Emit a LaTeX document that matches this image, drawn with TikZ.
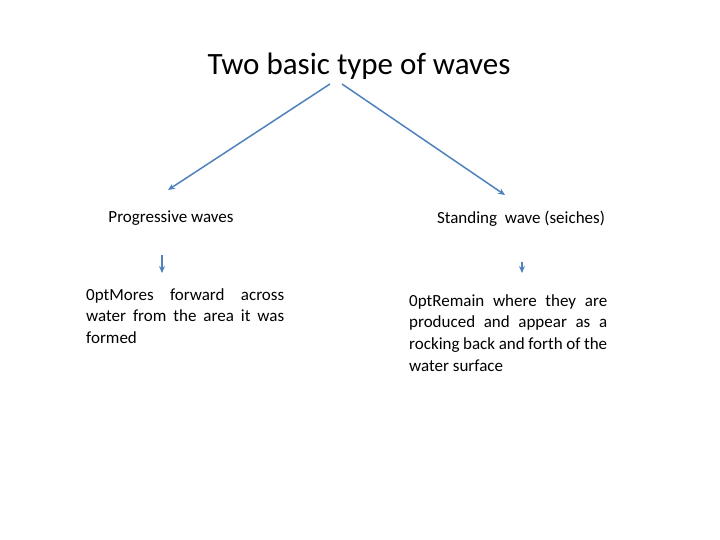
\documentclass[tikz,border=0pt]{standalone}
\usepackage{fontspec}
\setmainfont{Carlito}
\usetikzlibrary{arrows.meta}
\definecolor{ln}{RGB}{79,129,189}
\tikzset{conn/.style={draw=ln,line width=1.5pt,-{Stealth[length=7pt,width=6pt]}},
 lbl/.style={inner sep=0pt,font=\fontsize{17}{20}\selectfont},
 para/.style={inner sep=0pt,text width=198pt,align=justify,font=\fontsize{17}{21.8}\selectfont\hyphenpenalty=10000\exhyphenpenalty=10000}}
\begin{document}
\begin{tikzpicture}[x=1pt,y=-1pt]
\useasboundingbox (0,0) rectangle (720,540);
\node[inner sep=0pt,font=\fontsize{31}{34}\selectfont] (t) at (359,66) {Two basic type of waves};
\node[lbl] (p) at (171,218) {Progressive waves};
\node[lbl] (s) at (521,219) {Standing\ \ wave (seiches)};
\node[para,anchor=north west] (pd) at (86,288) {Mores forward across water from the area it was formed};
\node[para,anchor=north west] (sd) at (409,294) {Remain where they are produced and appear as a rocking back and forth of the water surface};
\coordinate (a1) at (330,84); \coordinate (b1) at (168,190);
\coordinate (a2) at (342,84); \coordinate (b2) at (505,195);
\draw[conn] (a1) -- (b1);
\draw[conn] (a2) -- (b2);
\draw[conn] (162,255) -- (162,273);
\draw[conn] (522,262) -- (522,273);
\end{tikzpicture}
\end{document}
